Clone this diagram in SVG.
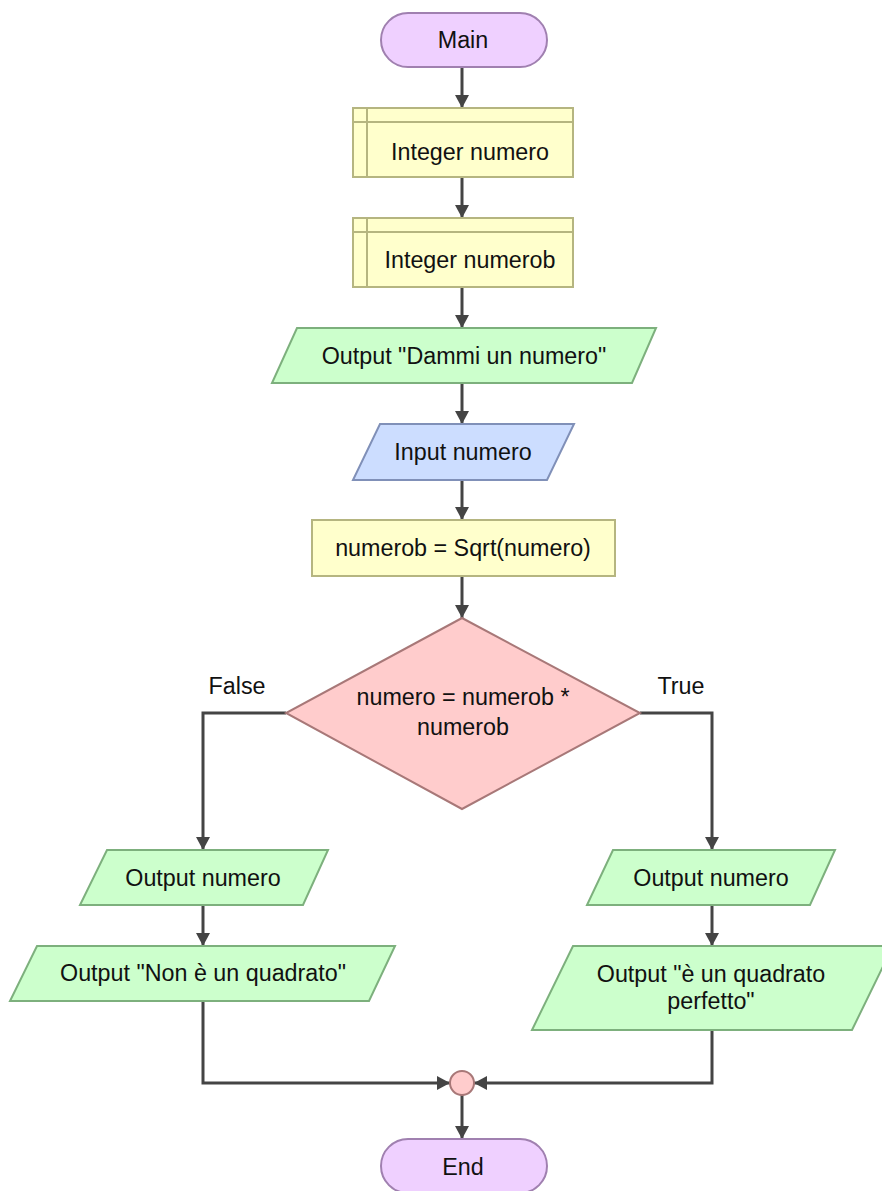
<svg xmlns="http://www.w3.org/2000/svg" width="882" height="1191" viewBox="0 0 882 1191">
<defs>
<style>
.t{font-family:"Liberation Sans",Arial,sans-serif;font-size:23.3px;fill:#111;text-anchor:middle}
.term{fill:#EFD0FF;stroke:#A080B0;stroke-width:2}
.decl{fill:#FFFFCC;stroke:#B5B580;stroke-width:2}
.out{fill:#CCFFCC;stroke:#7DB07D;stroke-width:2}
.inp{fill:#CCDDFF;stroke:#8090B8;stroke-width:2}
.dec{fill:#FFCCCC;stroke:#A87878;stroke-width:2}
.c{fill:none;stroke:#444;stroke-width:3;marker-end:url(#ah)}
</style>
<marker id="ah" markerUnits="userSpaceOnUse" markerWidth="14" markerHeight="14" refX="13" refY="7" orient="auto">
<path d="M0,0 L13,7 L0,14 Z" fill="#444"/>
</marker>
</defs>
<rect width="882" height="1191" fill="#fff"/>
<g id="connectors">
<path class="c" d="M462,67 V108"/>
<path class="c" d="M462,177 V218"/>
<path class="c" d="M462,287 V328"/>
<path class="c" d="M462,383 V424"/>
<path class="c" d="M462,480 V520"/>
<path class="c" d="M462,576 V618"/>
<path class="c" d="M286,713 H203 V850"/>
<path class="c" d="M640,713 H712 V850"/>
<path class="c" d="M203,905 V946"/>
<path class="c" d="M712,905 V946"/>
<path class="c" d="M203,1001 V1083 H450"/>
<path class="c" d="M712,1030 V1083 H474"/>
<path class="c" d="M462,1095 V1139"/>
</g>
<g id="main">
<rect class="term" x="381" y="13" width="166" height="54" rx="27"/>
<text class="t" x="463" y="48">Main</text>
</g>
<g id="decl1">
<rect class="decl" x="353" y="108" width="220" height="69"/>
<path d="M367,108 V177 M353,122 H573" stroke="#B5B580" stroke-width="2" fill="none"/>
<text class="t" x="470" y="160">Integer numero</text>
</g>
<g id="decl2">
<rect class="decl" x="353" y="218" width="220" height="69"/>
<path d="M367,218 V287 M353,232 H573" stroke="#B5B580" stroke-width="2" fill="none"/>
<text class="t" x="470" y="268">Integer numerob</text>
</g>
<g id="out1">
<polygon class="out" points="297,328 656,328 632,383 272,383"/>
<text class="t" x="464" y="364">Output "Dammi un numero"</text>
</g>
<g id="in1">
<polygon class="inp" points="380,424 574,424 547,480 353,480"/>
<text class="t" x="463" y="460">Input numero</text>
</g>
<g id="assign1">
<rect class="decl" x="312" y="520" width="303" height="56"/>
<text class="t" x="463" y="556">numerob = Sqrt(numero)</text>
</g>
<g id="if1">
<polygon class="dec" points="462,618 640,713 462,809 286,713"/>
<text class="t" x="463" y="705">numero = numerob *</text>
<text class="t" x="463" y="735">numerob</text>
<text class="t" x="237" y="694">False</text>
<text class="t" x="681" y="694">True</text>
</g>
<g id="outF1">
<polygon class="out" points="107,850 328,850 303,905 80,905"/>
<text class="t" x="203" y="886">Output numero</text>
</g>
<g id="outF2">
<polygon class="out" points="37,946 395,946 369,1001 10,1001"/>
<text class="t" x="203" y="981">Output "Non è un quadrato"</text>
</g>
<g id="outT1">
<polygon class="out" points="613,850 835,850 810,905 587,905"/>
<text class="t" x="711" y="886">Output numero</text>
</g>
<g id="outT2">
<polygon class="out" points="573,946 893,946 852,1030 532,1030"/>
<text class="t" x="711" y="982">Output "è un quadrato</text>
<text class="t" x="711" y="1009">perfetto"</text>
</g>
<g id="join">
<circle cx="462" cy="1083" r="12" fill="#FFCCCC" stroke="#A87878" stroke-width="2"/>
</g>
<g id="end">
<rect class="term" x="381" y="1139" width="166" height="54" rx="27"/>
<text class="t" x="463" y="1175">End</text>
</g>
</svg>
